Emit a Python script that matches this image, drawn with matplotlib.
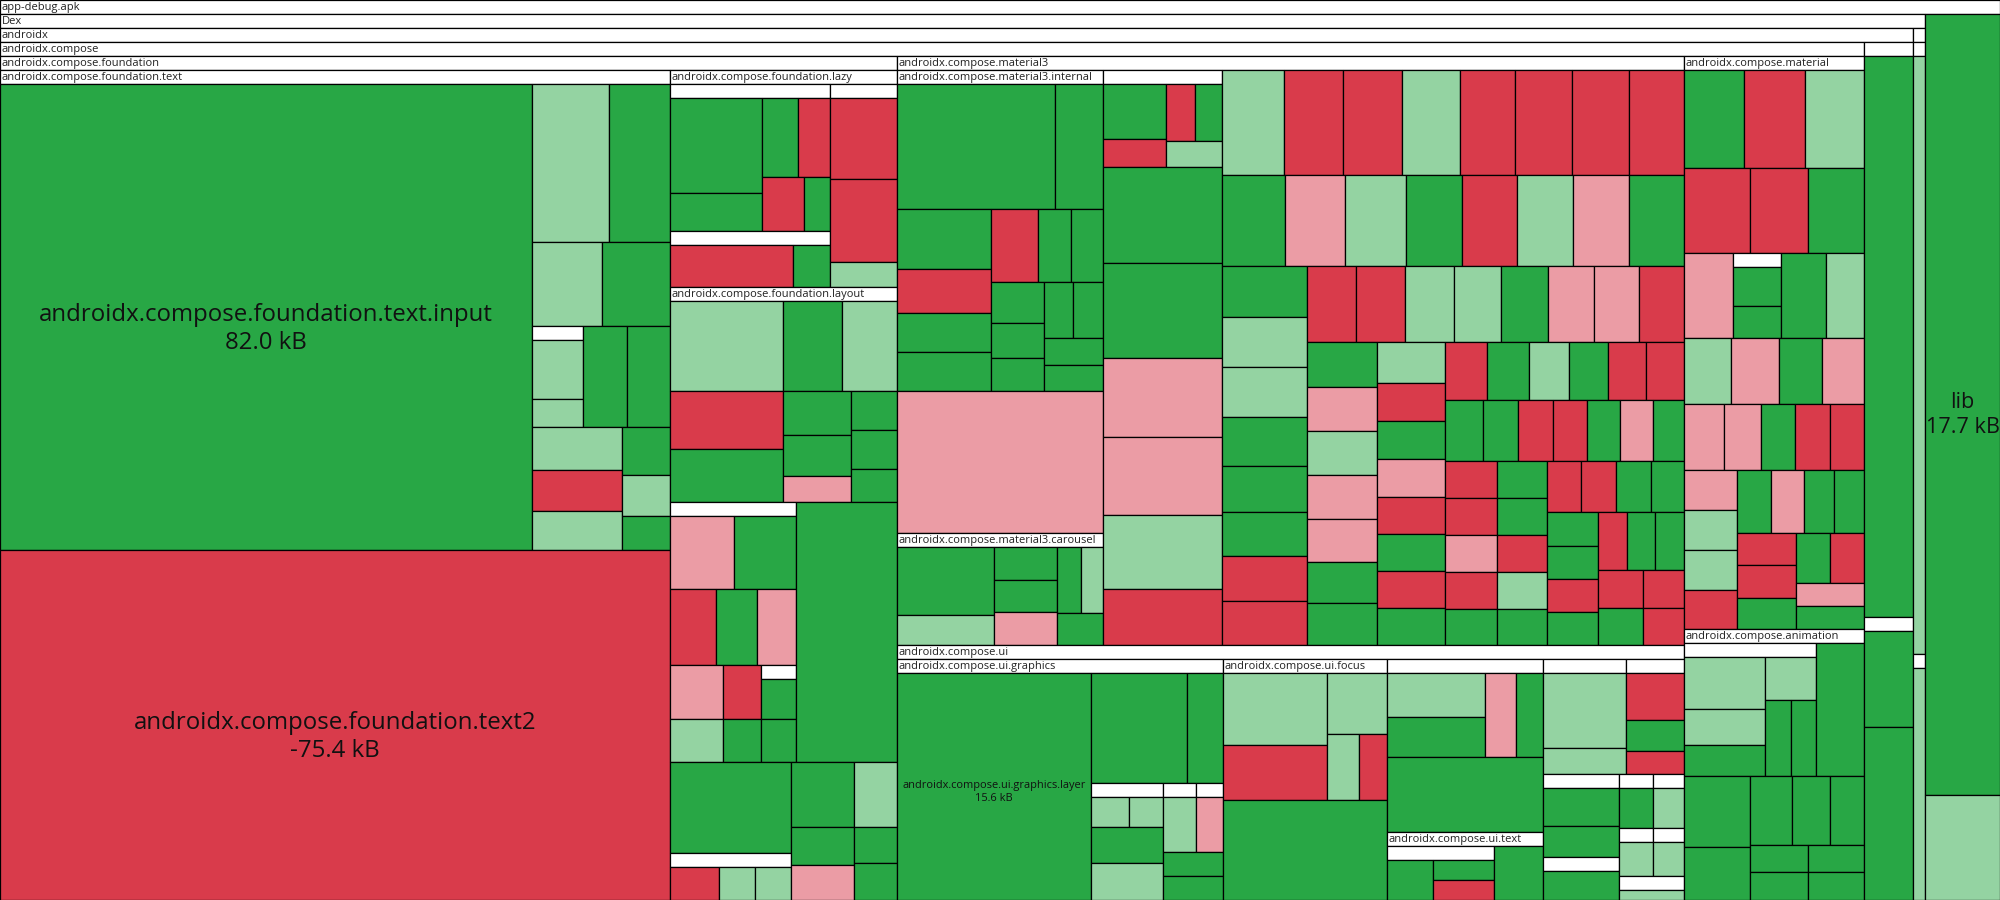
import matplotlib
matplotlib.use("Agg")
import matplotlib.pyplot as plt
from matplotlib.patches import Rectangle
from matplotlib.textpath import TextPath
from matplotlib.font_manager import FontProperties

# sizes are relative areas (1 unit = 1000 px^2)
# colour codes: G grew, g grew a little, R shrank, r shrank a little

# androidx.compose.foundation.text
text_input, text_input_kb = 247.9, "82.0 kB"
text2, text2_kb = 234.5, "-75.4 kB"
tc_band1, tc_band1_c = [12.17, 9.64], "gG"
tc_band2, tc_band2_c = [5.88, 5.71], "gG"
tc_pkg, tc_pkg_c = [3.01, 1.43], "gg"
tc_band3, tc_band3_c = [4.44, 4.34], "GG"
tc_left4, tc_left4_c = [3.87, 3.69, 3.51], "gRg"
tc_right4, tc_right4_c = [2.30, 1.97, 1.63], "GgG"

# androidx.compose.foundation.lazy
lazyA_left, lazyA_left_c = [8.74, 3.50], "GG"
lazyA_r1, lazyA_r1_c = [2.84, 2.53], "GR"
lazyA_r2, lazyA_r2_c = [2.27, 1.40], "RG"
lazyA2, lazyA2_c = [5.17, 1.55], "RG"
lazyB, lazyB_c = [5.43, 5.56, 1.68], "RRg"

# androidx.compose.foundation.layout
lay_top, lay_top_c = [10.17, 5.31, 4.95], "gGg"
lay_c1, lay_c1_c = [6.55, 5.99], "RG"
lay_c2, lay_c2_c = [2.99, 2.79, 1.77], "GGr"
lay_c3, lay_c3_c = [1.79, 1.79, 1.52], "GGG"

# rest of androidx.compose.foundation
x_r1, x_r1_c = [4.67, 4.53], "rG"
x_r2, x_r2_c = [3.50, 3.12, 2.96], "RGr"
x_r3, x_r3_c = [2.86, 2.05], "rR"
x_r3_sub = 1.40
x_r4, x_r4_c = [2.28, 1.63, 1.51], "gGG"
found_big = 26.26
bb_top = 11.01
bb_pkg, bb_pkg_c = [1.62, 1.19, 1.19], "Rgg"
bb_c1, bb_c1_c = [4.10, 2.39, 2.21], "GGr"
bb_c2, bb_c2_c = [2.80, 1.55, 1.59], "gGG"

# androidx.compose.material3
m3i_top, m3i_top_c = [19.75, 6.0], "GG"
m3i_c1, m3i_c1_c = [5.64, 4.14, 3.67, 3.67], "GRGG"
m3i_r1, m3i_r1_c = [3.43, 2.41, 2.34], "RGG"
m3i_c2, m3i_c2_c = [2.17, 1.86, 1.75], "GGG"
m3i_pair, m3i_pair_c = [1.62, 1.68], "GG"
m3i_tail, m3i_tail_c = [1.59, 1.53], "GG"
m3i_pink = 29.25
car_c1, car_c1_c = [6.60, 2.91], "Gg"
car_c2, car_c2_c = [2.08, 2.02, 2.08], "GGr"
car_pair, car_pair_c = [1.58, 1.45], "Gg"
car_last = 1.47
q_c1, q_c1_c = [3.47, 1.76], "GR"
q_pair, q_pair_c = [1.65, 1.54], "RG"
q_last = 1.46
m3_col, m3_col_c = [11.42, 11.31, 9.40, 9.28, 8.81, 6.66], "GGrrgR"
g_r1, g_r1_c = [6.51, 6.20, 6.20, 6.09, 5.78, 5.99, 5.99, 5.78], "gRRgRRRR"
g_r2, g_r2_c = [5.73, 5.46, 5.55, 5.10, 5.01, 5.10, 5.10, 5.01], "GrgGRgrG"
g_cA, g_cA_c = [4.34, 4.25, 4.25, 4.17, 3.91, 3.74, 3.83, 3.74], "GggGGGRR"
g_rB, g_rB_c = [3.72, 3.72, 3.72, 3.57, 3.57, 3.50, 3.42, 3.42], "RRggGrrR"
g_cC, g_cC_c = [3.15, 3.08, 3.08, 3.08, 3.01, 2.87, 2.94], "GrgrrGG"
g_cD, g_cD_c = [2.79, 2.58, 2.58, 2.58, 2.52, 2.52, 2.52, 2.52], "gRGrRGRG"
g_rE, g_rE_c = [2.44, 2.44, 2.32, 2.26, 2.20, 2.20], "RGgGRR"
g_rF, g_rF_c = [2.32, 2.14, 2.14, 2.07, 2.01, 2.01, 1.89], "GGRRGrG"
g_cG, g_cG_c = [1.92, 1.92, 1.92, 1.92, 1.87], "RRrRG"
g_cH, g_cH_c = [1.85, 1.85, 1.85, 1.85, 1.80], "GGRgG"
g_rI, g_rI_c = [1.73, 1.79, 1.79, 1.68], "RRGG"
g_cJ, g_cJ_c = [1.73, 1.68, 1.68, 1.68], "GGRG"
g_rK, g_rK_c = [1.68, 1.62, 1.68], "RGG"
g_rL1, g_rL1_c = [1.71, 1.56], "RR"
g_rL2, g_rL2_c = [1.67, 1.52], "GR"

# androidx.compose.ui
gfx_layer, gfx_layer_kb = 44.04, "15.6 kB"
gfx_top, gfx_top_c = [10.56, 3.96], "GG"
gfx_p1_r, gfx_p1_r_c = [1.14, 1.02], "gg"
gfx_p1_rest, gfx_p1_rest_c = [2.59, 2.66], "Gg"
gfx_p2, gfx_p3 = 1.82, 1.49
gfx_tail, gfx_tail_c = [1.44, 1.44], "GG"
foc_c1, foc_c1_c = [7.49, 5.72], "gR"
foc_top2 = 3.66
foc_pair, foc_pair_c = [2.11, 1.85], "gR"
foc_bottom = 16.4
p1_c, p1_c_c = [4.31, 3.92], "gG"
p1_side, p1_side_c = [2.60, 2.27], "rG"
p1_bottom = 11.7
ut_left = 1.84
ut_c, ut_c_c = [1.22, 1.22], "GR"
ut_right = 2.65
p2_v, p2_c = [6.23, 2.16], "gg"
p3_v, p3_c = [2.73, 1.80, 1.33], "RGR"
pa_v, pa_c = [2.89, 2.36], "GG"
pa_sub = 2.20
pb, pc, pd, pe, pf = 1.36, 1.24, 1.16, 1.05, 0.65

# androidx.compose.material
mat_r1, mat_r1_c = [5.88, 5.98, 5.78], "GRg"
mat_r2, mat_r2_c = [5.61, 4.93, 4.76], "RRG"
mat_r3_first = 4.21
mat_r3_pkg, mat_r3_pkg_c = [1.87, 1.58], "GG"
mat_r3_rest, mat_r3_rest_c = [3.87, 3.27], "Gg"
mat_r4, mat_r4_c = [3.12, 3.12, 2.80, 2.73], "grGr"
mat_r5, mat_r5_c = [2.64, 2.51, 2.24, 2.31, 2.24], "rrGRR"
mat_cL, mat_cL_c = [2.16, 2.16, 2.16, 2.11], "rggR"
mat_rt, mat_rt_c = [2.14, 2.08, 1.89, 1.89], "GrGG"
mat_cM, mat_cM_c = [1.89, 1.95, 1.83], "RRG"
mat_pair, mat_pair_c = [1.70, 1.70], "GR"
mat_tail, mat_tail_c = [1.56, 1.56], "rG"

# androidx.compose.animation
an_c1, an_c1_c = [4.21, 2.92, 2.51], "ggG"
an_c2top = 2.19
an_pair, an_pair_c = [1.98, 1.90], "GG"
an_side = 6.38
an_bl, an_bl_c = [4.69, 3.50], "GG"
an_r1, an_r1_c = [2.90, 2.62, 2.35], "GGG"
an_r2, an_r2_c = [1.57, 1.51], "GG"
an_r3, an_r3_c = [1.62, 1.57], "GG"

# other columns
ax_top = 27.5
ax_sub, ax_sub_c = [4.70, 8.48], "GG"
dex_top, dex_sub = 7.18, 2.78
lib, lib_kb = 58.6, "17.7 kB"
lib_other = 7.9

COLORS = {"G": "#28a745", "g": "#94d3a2", "R": "#d93b4b", "r": "#eb9ca5"}
HDR = 14
HDR_FS = 8.0  # pt


def L(v, c, name=None, label=None):
    return {"v": v, "c": c, "name": name, "label": label}


def grp(d, *kids):
    return {"d": d, "kids": list(kids), "hdr": None}


def pkg(name, d, *kids):
    return {"d": d, "kids": list(kids), "hdr": name}


def leaves(vals, cols):
    return [L(v, c) for v, c in zip(vals, cols)]


def strip(d, vals, cols):
    return grp(d, *leaves(vals, cols))


text_col = grp("v",
               strip("h", tc_band1, tc_band1_c),
               strip("h", tc_band2, tc_band2_c),
               grp("h", pkg("", "v", *leaves(tc_pkg, tc_pkg_c)), *leaves(tc_band3, tc_band3_c)),
               grp("h", strip("v", tc_left4, tc_left4_c), strip("v", tc_right4, tc_right4_c)))
foundation_text = pkg("androidx.compose.foundation.text", "v",
                      grp("h", L(text_input, "G", "androidx.compose.foundation.text.input", text_input_kb), text_col),
                      L(text2, "R", "androidx.compose.foundation.text2", text2_kb))
lazy = pkg("androidx.compose.foundation.lazy", "h",
           pkg("", "v",
               grp("h", strip("v", lazyA_left, lazyA_left_c),
                   grp("v", strip("h", lazyA_r1, lazyA_r1_c), strip("h", lazyA_r2, lazyA_r2_c))),
               pkg("", "h", *leaves(lazyA2, lazyA2_c))),
           pkg("", "v", *leaves(lazyB, lazyB_c)))
layout = pkg("androidx.compose.foundation.layout", "v",
             strip("h", lay_top, lay_top_c),
             grp("h", strip("v", lay_c1, lay_c1_c), strip("v", lay_c2, lay_c2_c), strip("v", lay_c3, lay_c3_c)))
xpkg = pkg("", "v",
           strip("h", x_r1, x_r1_c),
           strip("h", x_r2, x_r2_c),
           grp("h", *leaves(x_r3, x_r3_c), pkg("", "v", L(x_r3_sub, "G"))),
           strip("h", x_r4, x_r4_c))
band_low = grp("h",
               grp("v", L(bb_top, "G"), pkg("", "h", *leaves(bb_pkg, bb_pkg_c))),
               strip("v", bb_c1, bb_c1_c),
               strip("v", bb_c2, bb_c2_c))
foundation = pkg("androidx.compose.foundation", "h", foundation_text,
                 grp("v", lazy, layout, grp("h", xpkg, L(found_big, "G")), band_low))

m3_internal = pkg("androidx.compose.material3.internal", "v",
                  strip("h", m3i_top, m3i_top_c),
                  grp("h", strip("v", m3i_c1, m3i_c1_c),
                      grp("v", strip("h", m3i_r1, m3i_r1_c),
                          grp("h", strip("v", m3i_c2, m3i_c2_c),
                              grp("v", strip("h", m3i_pair, m3i_pair_c), *leaves(m3i_tail, m3i_tail_c))))),
                  L(m3i_pink, "r"))
carousel = pkg("androidx.compose.material3.carousel", "h",
               strip("v", car_c1, car_c1_c), strip("v", car_c2, car_c2_c),
               grp("v", strip("h", car_pair, car_pair_c), L(car_last, "G")))
q = pkg("", "h", strip("v", q_c1, q_c1_c), grp("v", strip("h", q_pair, q_pair_c), L(q_last, "g")))
grid = grp("v", strip("h", g_r1, g_r1_c), strip("h", g_r2, g_r2_c),
           grp("h", strip("v", g_cA, g_cA_c),
               grp("v", strip("h", g_rB, g_rB_c),
                   grp("h", strip("v", g_cC, g_cC_c), strip("v", g_cD, g_cD_c),
                       grp("v", strip("h", g_rE, g_rE_c), strip("h", g_rF, g_rF_c),
                           grp("h", strip("v", g_cG, g_cG_c), strip("v", g_cH, g_cH_c),
                               grp("v", strip("h", g_rI, g_rI_c),
                                   grp("h", strip("v", g_cJ, g_cJ_c),
                                       grp("v", strip("h", g_rK, g_rK_c), strip("h", g_rL1, g_rL1_c),
                                           strip("h", g_rL2, g_rL2_c))))))))))
material3 = pkg("androidx.compose.material3", "h",
                grp("v", m3_internal, carousel),
                grp("v", q, *leaves(m3_col, m3_col_c)),
                grid)

graphics = pkg("androidx.compose.ui.graphics", "h",
               L(gfx_layer, "G", "androidx.compose.ui.graphics.layer", gfx_layer_kb),
               grp("v", strip("h", gfx_top, gfx_top_c),
                   grp("h", pkg("", "v", strip("h", gfx_p1_r, gfx_p1_r_c), *leaves(gfx_p1_rest, gfx_p1_rest_c)),
                       grp("v", grp("h", pkg("", "v", L(gfx_p2, "g")), pkg("", "v", L(gfx_p3, "r"))),
                           *leaves(gfx_tail, gfx_tail_c)))))
focus = pkg("androidx.compose.ui.focus", "v",
            grp("h", strip("v", foc_c1, foc_c1_c), grp("v", L(foc_top2, "g"), strip("h", foc_pair, foc_pair_c))),
            L(foc_bottom, "G"))
p1 = pkg("", "v", grp("h", strip("v", p1_c, p1_c_c), *leaves(p1_side, p1_side_c)), L(p1_bottom, "G"))
ui_text = pkg("androidx.compose.ui.text", "h",
              pkg("", "h", L(ut_left, "G"), strip("v", ut_c, ut_c_c)), L(ut_right, "G"))
ui_rest = grp("v",
              grp("h", pkg("", "v", *leaves(p2_v, p2_c)), pkg("", "v", *leaves(p3_v, p3_c))),
              grp("h", pkg("", "v", *leaves(pa_v, pa_c), pkg("", "v", L(pa_sub, "G"))),
                  grp("v", grp("h", pkg("", "v", L(pb, "G")), pkg("", "v", L(pc, "g"))),
                      grp("h", pkg("", "v", L(pd, "g")), pkg("", "v", L(pe, "g"))),
                      pkg("", "v", L(pf, "g")))))
ui = pkg("androidx.compose.ui", "h", graphics, focus, grp("v", p1, ui_text), ui_rest)

material = pkg("androidx.compose.material", "v",
               strip("h", mat_r1, mat_r1_c), strip("h", mat_r2, mat_r2_c),
               grp("h", L(mat_r3_first, "r"), pkg("", "v", *leaves(mat_r3_pkg, mat_r3_pkg_c)),
                   *leaves(mat_r3_rest, mat_r3_rest_c)),
               strip("h", mat_r4, mat_r4_c), strip("h", mat_r5, mat_r5_c),
               grp("h", strip("v", mat_cL, mat_cL_c),
                   grp("v", strip("h", mat_rt, mat_rt_c),
                       grp("h", strip("v", mat_cM, mat_cM_c),
                           grp("v", strip("h", mat_pair, mat_pair_c), *leaves(mat_tail, mat_tail_c))))))
animation = pkg("androidx.compose.animation", "v",
                grp("h", pkg("", "h", strip("v", an_c1, an_c1_c),
                             grp("v", L(an_c2top, "g"), strip("h", an_pair, an_pair_c))),
                    L(an_side, "G")),
                grp("h", strip("v", an_bl, an_bl_c),
                    grp("v", strip("h", an_r1, an_r1_c), strip("h", an_r2, an_r2_c), strip("h", an_r3, an_r3_c))))

compose = pkg("androidx.compose", "h", foundation, grp("v", material3, ui), grp("v", material, animation))
androidx = pkg("androidx", "h", compose,
               pkg("", "v", L(ax_top, "G"), pkg("", "v", *leaves(ax_sub, ax_sub_c))))
dex = pkg("Dex", "h", androidx,
          pkg("", "v", pkg("", "v", L(dex_top, "g"), pkg("", "v", L(dex_sub, "g")))))
apk = pkg("app-debug.apk", "h", dex, grp("v", L(lib, "G", "lib", lib_kb), L(lib_other, "g")))


def weight(n):
    if "kids" not in n:
        return n["v"]
    return sum(weight(k) for k in n["kids"]) + n.get("extra", 0.0)


def place(n, x0, y0, x1, y1, out):
    if "kids" not in n:
        out.append((n, x0, y0, x1, y1))
        return
    if n["hdr"] is not None:
        n["extra"] = HDR * (x1 - x0) / 1000.0
        out.append((n, x0, y0, x1, y0 + HDR))
        y0 += HDR
    ws = [weight(k) for k in n["kids"]]
    tot = sum(ws)
    pos = x0 if n["d"] == "h" else y0
    for k, w in zip(n["kids"], ws):
        if n["d"] == "h":
            step = (x1 - x0) * w / tot
            place(k, pos, y0, pos + step, y1, out)
        else:
            step = (y1 - y0) * w / tot
            place(k, x0, pos, x1, pos + step, out)
        pos += step


for _ in range(6):
    rects = []
    place(apk, 0, 0, 2000, 900, rects)

fp = FontProperties(family="Open Sans")


def em(s):
    return TextPath((0, 0), s, size=100, prop=fp).get_extents().width / 100.0


fig = plt.figure(figsize=(20, 9), dpi=100)
ax = fig.add_axes([0, 0, 1, 1])
ax.set_xlim(0, 2000)
ax.set_ylim(900, 0)
ax.axis("off")

for n, x0, y0, x1, y1 in rects:
    w, h = x1 - x0, y1 - y0
    if "kids" in n:
        ax.add_patch(Rectangle((x0, y0), w, h, fc="white", ec="black", lw=0.9))
        name = n["hdr"]
        if name and em(name) * HDR_FS / 0.72 <= w - 4:
            ax.text(x0 + 1.5, y0 + HDR / 2 + 0.5, name, ha="left", va="center",
                    fontsize=HDR_FS, family="Open Sans", color="#222222")
    else:
        ax.add_patch(Rectangle((x0, y0), w, h, fc=COLORS[n["c"]], ec="black", lw=0.9))
        if n["name"]:
            widest = max(em(n["name"]), em(n["label"]))
            px = min(24.0, 0.94 * w / widest)
            ax.text(x0 + w / 2, y0 + h / 2 + 0.5 * px, n["name"] + "\n" + n["label"],
                    ha="center", va="center", multialignment="center", linespacing=1.25,
                    fontsize=px * 0.72, family="Open Sans", color="#111111")

fig.savefig("out.png", dpi=100)
